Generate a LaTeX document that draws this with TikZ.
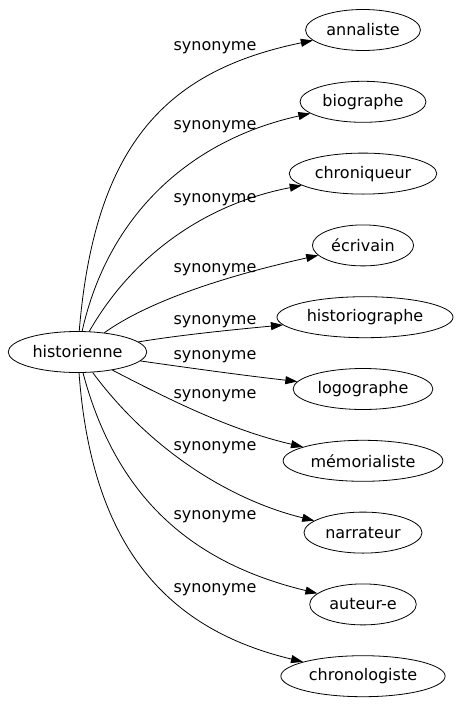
\documentclass[tikz,border=0pt]{standalone}
\usepackage{fontspec}
\setmainfont{DejaVu Sans}
\usetikzlibrary{shapes.geometric,arrows.meta}

\begin{document}
\begin{tikzpicture}[x=1pt,y=-1pt, font=\fontsize{16}{19}\selectfont,
  mot/.style={draw, ellipse, line width=0.8pt, minimum height=41pt, inner xsep=4pt, inner ysep=2pt},
  syn/.style={line width=0.8pt, -{Triangle[length=12pt,width=8pt]}},
  lbl/.style={inner sep=1pt}]
  \useasboundingbox (0,0) rectangle (457,707);
  \node[mot] (hist) at (77.5,352) {historienne};
  % les synonymes
  \node[mot] (annal) at (363,30) {annaliste};
  \node[mot] (bio) at (363,101.8) {biographe};
  \node[mot] (chroniq) at (363,173.6) {chroniqueur};
  \node[mot] (ecriv) at (363,245.4) {écrivain};
  \node[mot] (histog) at (365,317.2) {historiographe};
  \node[mot] (logo) at (363,389) {logographe};
  \node[mot] (memo) at (363,460.8) {mémorialiste};
  \node[mot] (narr) at (363,532.6) {narrateur};
  \node[mot] (aut) at (363,604.4) {auteur-e};
  \node[mot] (chronol) at (363,676.2) {chronologiste};
  % etiquettes
  \node[lbl] (l1) at (215,48) {synonyme};
  \node[lbl] (l2) at (215,127) {synonyme};
  \node[lbl] (l3) at (215,200) {synonyme};
  \node[lbl] (l4) at (215,270) {synonyme};
  \node[lbl] (l5) at (215,322) {synonyme};
  \node[lbl] (l6) at (215,357) {synonyme};
  \node[lbl] (l7) at (215,396) {synonyme};
  \node[lbl] (l8) at (215,448) {synonyme};
  \node[lbl] (l9) at (215,517) {synonyme};
  \node[lbl] (l10) at (215,590) {synonyme};
  % fleches
  \draw[syn] (hist) .. controls (95,140) and (170,70) .. (annal);
  \draw[syn] (hist) .. controls (108,215) and (190,140) .. (bio);
  \draw[syn] (hist) .. controls (130,260) and (200,205) .. (chroniq);
  \draw[syn] (hist) .. controls (150,300) and (230,275) .. (ecriv);
  \draw[syn] (hist) .. controls (180,335) and (230,330) .. (histog);
  \draw[syn] (hist) .. controls (190,368) and (240,375) .. (logo);
  \draw[syn] (hist) .. controls (170,400) and (230,430) .. (memo);
  \draw[syn] (hist) .. controls (150,450) and (230,500) .. (narr);
  \draw[syn] (hist) .. controls (118,505) and (200,565) .. (aut);
  \draw[syn] (hist) .. controls (92,550) and (170,630) .. (chronol);
\end{tikzpicture}
\end{document}
